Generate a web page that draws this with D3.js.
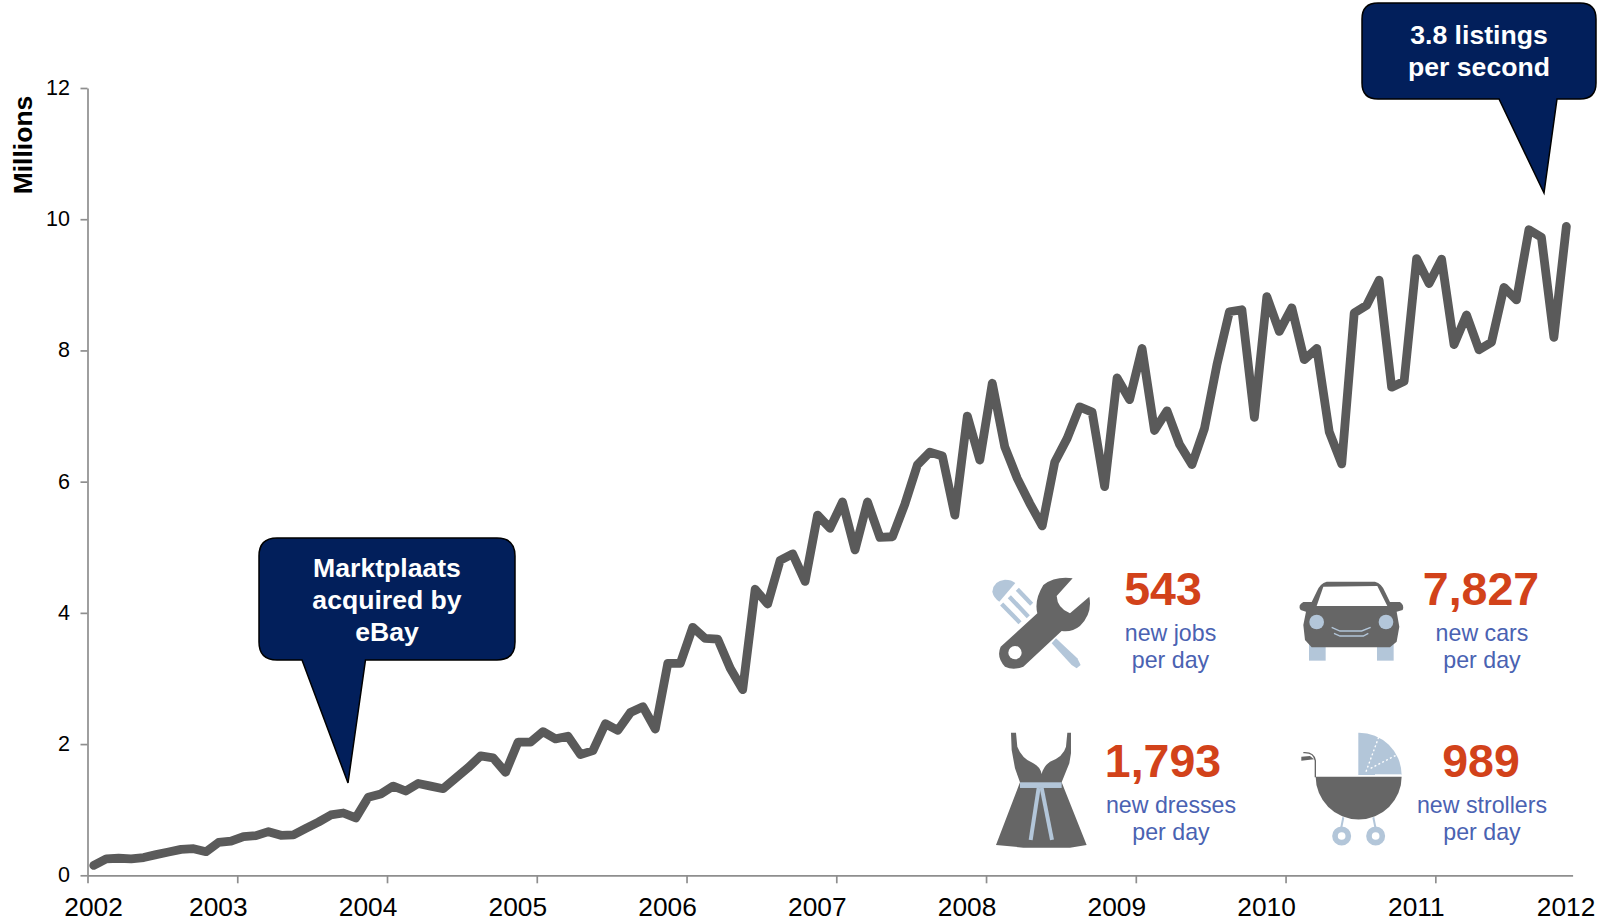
<!DOCTYPE html>
<html><head><meta charset="utf-8">
<script src="https://cdn.jsdelivr.net/npm/d3@7/dist/d3.min.js"></script>
<style>
html,body{margin:0;padding:0;background:#fff}
svg{display:block}
text{font-family:"Liberation Sans",Arial,sans-serif}
</style></head><body>
<svg id="c" width="1604" height="923"></svg>
<script>
const listings = [
0.15,0.25,0.26,0.25,0.27,0.315,0.355,0.395,0.405,0.36,0.50,0.52,
0.59,0.605,0.665,0.61,0.615,0.715,0.81,0.92,0.95,0.875,1.19,1.24,
1.36,1.285,1.40,1.36,1.32,1.48,1.64,1.82,1.79,1.57,2.03,2.03,
2.19,2.08,2.12,1.84,1.90,2.31,2.21,2.48,2.57,2.23,3.23,3.23,
3.78,3.61,3.60,3.155,2.83,4.36,4.135,4.80,4.90,4.48,5.49,5.29,
5.69,4.96,5.69,5.15,5.16,5.66,6.255,6.45,6.39,5.49,7.00,6.33,
7.50,6.53,6.05,5.67,5.325,6.295,6.66,7.14,7.06,5.925,7.58,7.25,
8.03,6.78,7.08,6.57,6.26,6.81,7.78,8.59,8.62,6.98,8.82,8.29,
8.65,7.86,8.03,6.76,6.27,8.57,8.69,9.07,7.44,7.53,9.40,9.02,
9.39,8.09,8.54,8.01,8.125,8.96,8.77,9.84,9.725,8.20,9.89];
const yTicks = [0,2,4,6,8,10,12];
const yearLabels = ["2002","2003","2004","2005","2006","2007","2008","2009","2010","2011","2012"];
const stats = [
 {value:"543",l1:"new jobs",l2:"per day"},
 {value:"7,827",l1:"new cars",l2:"per day"},
 {value:"1,793",l1:"new dresses",l2:"per day"},
 {value:"989",l1:"new strollers",l2:"per day"}];
const notes = ["Marktplaats|acquired by|eBay","3.8 listings|per second"];

const svg = d3.select("#c");
const x = d3.scaleLinear().domain([0,listings.length]).range([87.5,1572.6]);
const y = d3.scaleLinear().domain([0,12]).range([875.3,88]);
const axisColor="#8e8e8e";

// y axis
const gy = svg.append("g").attr("transform","translate(87.5,0)")
  .call(d3.axisLeft(y).tickValues(yTicks).tickSize(7).tickPadding(10.5).tickSizeOuter(0));
gy.selectAll("path,line").attr("stroke",axisColor).attr("stroke-width",1.7);
gy.selectAll("text").attr("font-size",21.5).attr("fill","#000").attr("dy","0.3em").style("font-family",'"Liberation Sans"');

// x axis
const monthsPerYear = 12;
const tickIdx = yearLabels.map((_,i)=>i*monthsPerYear);
const gx = svg.append("g").attr("transform","translate(0,875.3)")
  .call(d3.axisBottom(x).tickValues(tickIdx).tickSize(8).tickSizeOuter(0)
        .tickFormat((d,i)=>yearLabels[i]));
gx.selectAll("path,line").attr("stroke",axisColor).attr("stroke-width",1.7);
gx.selectAll("line").filter(d=>d>x.domain()[1]).remove();
gx.selectAll("text").attr("font-size",26.3).attr("fill","#000")
  .style("font-family",'"Liberation Sans"')
  .attr("y",22).attr("dx",(d,i)=>i===0?5.5:-19.5);

// axis title
svg.append("text").attr("transform","translate(32,145) rotate(-90)")
  .attr("text-anchor","middle").attr("font-size",26.5).attr("font-weight","bold").text("Millions");

// line
const line = d3.line().x((d,i)=>x(i+0.5)).y(d=>y(d)).curve(d3.curveLinear);
svg.append("path").datum(listings).attr("d",line).attr("fill","none")
  .attr("stroke","#5a5a5a").attr("stroke-width",8.8)
  .attr("stroke-linejoin","round").attr("stroke-linecap","round");

// callouts
function callout(d){
  svg.append("path").attr("d",d).attr("fill","#021f5b").attr("stroke","#000").attr("stroke-width",1.5);
  return svg.append("text").attr("fill","#fff").attr("font-weight","bold").attr("font-size",26.6).attr("text-anchor","middle");
}
function lines(t,cx,bases,txt){ txt.split("|").forEach((s,i)=>t.append("tspan").attr("x",cx).attr("y",bases[i]).text(s)); }
lines(callout("M277,538 H497 Q515,538 515,556 V642 Q515,660 497,660 H365.5 L348,783 L302,660 H277 Q259,660 259,642 V556 Q259,538 277,538 Z"),387,[577,609,641],notes[0]);
lines(callout("M1378,3 H1580 Q1596,3 1596,19 V83 Q1596,99 1580,99 H1557 L1544,193 L1499,99 H1378 Q1362,99 1362,83 V19 Q1362,3 1378,3 Z"),1479,[44,76],notes[1]);

// stats text
const cols=[{n:1163,s:1170.5},{n:1481,s:1482},{n:1163,s:1171},{n:1481,s:1482}];
const rows=[{n:605,a:641,b:668},{n:605,a:641,b:668},{n:777,a:813,b:840},{n:777,a:813,b:840}];
stats.forEach((s,i)=>{
  svg.append("text").attr("x",cols[i].n).attr("y",rows[i].n).attr("text-anchor","middle")
    .attr("font-size",46.5).attr("font-weight","bold").attr("fill","#d2421a").text(s.value);
  svg.append("text").attr("x",cols[i].s).attr("y",rows[i].a).attr("text-anchor","middle")
    .attr("font-size",23.2).attr("fill","#4a62b2").text(s.l1);
  svg.append("text").attr("x",cols[i].s).attr("y",rows[i].b).attr("text-anchor","middle")
    .attr("font-size",23.2).attr("fill","#4a62b2").text(s.l2);
});

// icons (decorative), drawn in 3x crop coordinates
const dark="#666666", pale="#b3c6d9";
const ic1=svg.append("g").attr("transform","translate(960,550) scale(0.3333)");
ic1.append("path").attr("fill",pale).attr("d","M97,125 Q100,92 135,89 Q155,89 166,99 L118,155 Q100,142 97,125 Z");
[[172,118,215,163],[148,140,205,200],[125,162,180,218]].forEach(c=>ic1.append("line").attr("x1",c[0]).attr("y1",c[1]).attr("x2",c[2]).attr("y2",c[3]).attr("stroke",pale).attr("stroke-width",13));
ic1.append("path").attr("fill",pale).attr("d","M288,265 L352,325 L362,345 L350,355 L335,345 L275,280 Z");
ic1.append("path").attr("fill",dark).attr("d","M338,85 L290,138 Q292,175 330,190 L388,140 Q398,190 360,228 Q335,248 305,243 L190,350 Q160,362 135,350 Q108,322 122,290 L232,190 Q222,150 250,105 Q285,78 338,85 Z");
ic1.append("circle").attr("cx",165).attr("cy",308).attr("r",20).attr("fill","#fff");

const ic2=svg.append("g").attr("transform","translate(1260,550) scale(0.3333)");
[147,351].forEach(a=>ic2.append("rect").attr("x",a).attr("y",275).attr("width",50).attr("height",57).attr("fill",pale));
ic2.append("path").attr("fill",dark).attr("d","M200,95 H345 Q365,100 375,125 L390,156 H420 Q434,165 428,180 L410,185 L418,230 L410,275 L390,292 H155 L135,270 L130,225 L138,185 L122,180 Q112,165 130,156 H155 L170,125 Q180,100 200,95 Z");
ic2.append("path").attr("fill","#fff").attr("d","M170,168 L190,110 L352,108 L382,168 Z");
[170,378].forEach(a=>ic2.append("circle").attr("cx",a).attr("cy",216).attr("r",22).attr("fill",pale));
ic2.append("path").attr("fill","none").attr("stroke",pale).attr("stroke-width",4).attr("d","M215,232 L240,243 H305 L332,232 M222,250 L240,258 H310 L325,250");

const ic3=svg.append("g").attr("transform","translate(960,550) scale(0.3333)");
ic3.append("path").attr("fill",dark).attr("d","M153,548 H168 L172,590 Q185,625 220,640 Q240,650 245,672 Q250,650 270,635 Q310,620 318,590 L322,548 H333 V610 L328,640 L305,697 L380,885 L330,893 H190 L108,885 L180,697 L165,655 L155,600 Z");
ic3.append("rect").attr("x",180).attr("y",697).attr("width",125).attr("height",17).attr("fill",pale);
[[236,714,212,870],[245,714,276,870]].forEach(c=>ic3.append("line").attr("x1",c[0]).attr("y1",c[1]).attr("x2",c[2]).attr("y2",c[3]).attr("stroke",pale).attr("stroke-width",12));

const ic4=svg.append("g").attr("transform","translate(1260,550) scale(0.3333)");
ic4.append("path").attr("fill",pale).attr("d","M295,675 V548 A128,128 0 0 1 425,675 Z");
ic4.append("path").attr("fill","none").attr("stroke","#fff").attr("stroke-width",4).attr("stroke-dasharray","6 7").attr("d","M318,665 L356,562 M332,655 L412,614");
ic4.append("path").attr("fill","none").attr("stroke","#fff").attr("stroke-width",4).attr("d","M345,675 H425");
ic4.append("path").attr("fill",dark).attr("d","M167,680 H425 A129,129 0 0 1 167,680 Z");
ic4.append("path").attr("fill","none").attr("stroke",dark).attr("stroke-width",4).attr("d","M166,682 V632 Q162,606 130,608");
ic4.append("path").attr("fill",dark).attr("d","M124,632 V620 L150,618 L162,628 Z");
ic4.append("path").attr("fill","none").attr("stroke",pale).attr("stroke-width",6).attr("d","M250,802 L244,832 M340,802 L346,832");
[[245,858],[347,858]].forEach(c=>ic4.append("circle").attr("cx",c[0]).attr("cy",c[1]).attr("r",20).attr("fill","none").attr("stroke",pale).attr("stroke-width",17));
</script>
</body></html>
